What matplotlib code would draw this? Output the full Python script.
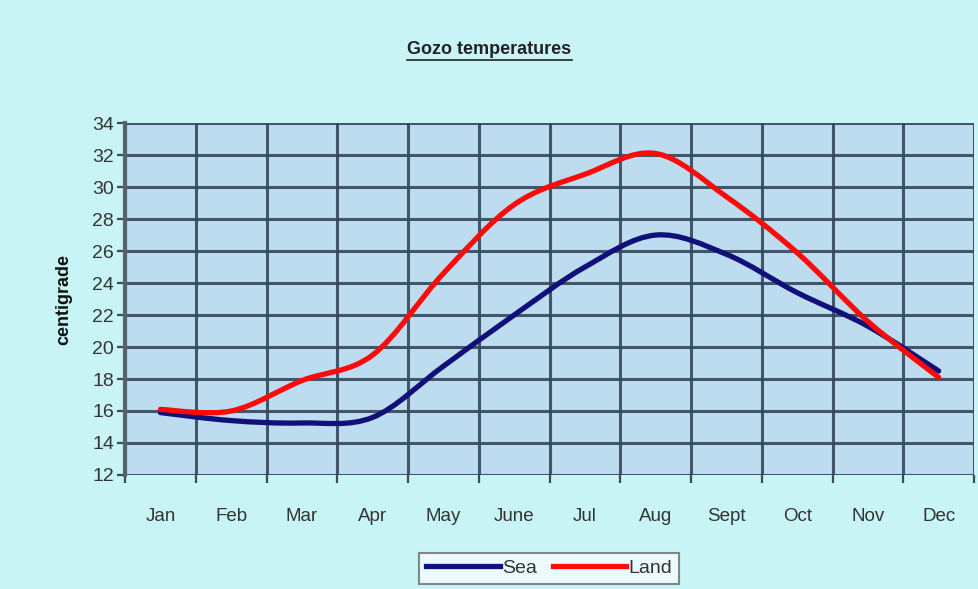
import numpy as np
import matplotlib as mpl
import matplotlib.pyplot as plt
from matplotlib.path import Path
from matplotlib.patches import PathPatch
from matplotlib.lines import Line2D

mpl.rcParams.update({'font.family': ['Liberation Sans', 'DejaVu Sans']})

months = ["Jan", "Feb", "Mar", "Apr", "May", "June", "Jul", "Aug", "Sept", "Oct", "Nov", "Dec"]
sea = [15.9, 15.4, 15.25, 15.6, 18.8, 22.0, 25.0, 27.0, 25.8, 23.4, 21.3, 18.5]
land = [16.1, 16.0, 17.9, 19.5, 24.6, 28.9, 30.8, 32.1, 29.4, 25.9, 21.6, 18.1]
yticks = list(range(12, 35, 2))


def smooth_path(x, y):
    """
    Excel style smoothed line: cubic bezier segments through the points
    """
    p = np.column_stack([x, y]).astype(float)
    n = len(p)
    verts = [p[0]]
    codes = [Path.MOVETO]
    for i in range(n - 1):
        prev = p[i - 1] if i > 0 else p[i]
        nxt = p[i + 2] if i + 2 < n else p[i + 1]
        c1 = p[i] + (p[i + 1] - prev) / 6.0
        c2 = p[i + 1] - (nxt - p[i]) / 6.0
        verts += [c1, c2, p[i + 1]]
        codes += [Path.CURVE4] * 3
    return Path(verts, codes)


fig = plt.figure(figsize=(9.79, 5.89), dpi=100)
fig.patch.set_facecolor("#c8f4f6")
ax = fig.add_axes([0.1277, 0.1936, 0.8672, 0.5974])
ax.set_facecolor("#bddcef")

x = np.arange(len(months))
for vals, col in [(sea, "#101078"), (land, "#ff0a0a")]:
    ax.add_patch(PathPatch(smooth_path(x, vals), facecolor="none",
                           edgecolor=col, linewidth=3.8, capstyle="round",
                           zorder=3))

ax.set_xlim(-0.5, len(months) - 0.5)
ax.set_ylim(12, 34)

# boundaries as major ticks (grid), month names at centers
ax.set_xticks(np.arange(-0.5, len(months), 1.0))
ax.set_xticklabels([])
ax.set_xticks(x, minor=True)
ax.set_xticklabels(months, minor=True)
ax.set_yticks(yticks)
ax.tick_params(axis='x', which='minor', length=0, pad=24, labelsize=13.5,
               labelcolor="#333333")
ax.tick_params(axis='x', which='major', length=6, width=1.6, color="#404a55")
ax.tick_params(axis='y', length=6, width=1.6, color="#404a55", pad=2,
               labelsize=14, labelcolor="#333333")
ax.grid(True, which='major', color="#34485a", linewidth=2.2, alpha=0.9)
ax.set_axisbelow(True)
for s in ax.spines.values():
    s.set_visible(False)
ax.spines['left'].set_visible(True)
ax.spines['left'].set_color("#55636e")
ax.spines['left'].set_linewidth(3)

ax.set_ylabel("centigrade", fontsize=13, fontweight='bold', labelpad=14,
              color="#111111")

fig.text(0.5, 0.916, "Gozo temperatures", ha='center', va='center',
         fontsize=13, color="#222222", fontweight='bold')
t = fig.texts[-1]
fig.canvas.draw()
bb = t.get_window_extent().transformed(fig.transFigure.inverted())
fig.add_artist(Line2D([bb.x0, bb.x1], [bb.y0 - 0.003, bb.y0 - 0.003],
                      transform=fig.transFigure, color="#222222", linewidth=1.2))

handles = [Line2D([], [], color="#101078", linewidth=3.8),
           Line2D([], [], color="#ff0a0a", linewidth=3.8)]
leg = fig.legend(handles, ["Sea", "Land"], loc='upper center',
                 bbox_to_anchor=(0.561, 0.078), ncol=2, fontsize=14,
                 frameon=True, fancybox=False, handlelength=3.8,
                 handletextpad=0.1, columnspacing=0.8, borderpad=0.35,
                 labelcolor="#333333")
leg.get_frame().set_edgecolor("#6a6a6a")
leg.get_frame().set_linewidth(1.5)
leg.get_frame().set_facecolor("#f6fbff")

plt.savefig("out.png", dpi=100, facecolor=fig.get_facecolor())
plt.close()
